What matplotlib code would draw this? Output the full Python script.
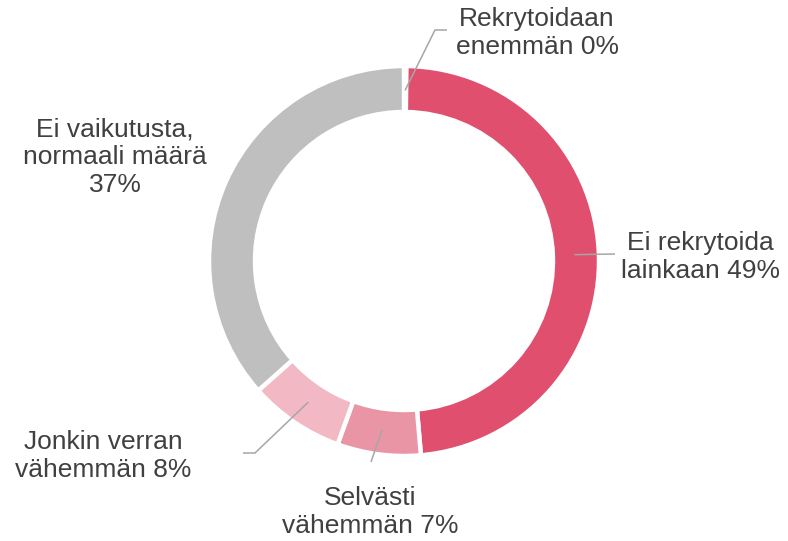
import matplotlib
matplotlib.use("Agg")
import matplotlib.pyplot as plt
import numpy as np

plt.rcParams['font.family'] = ['Liberation Sans', 'DejaVu Sans']

labels = ["Rekrytoidaan\nenemmän 0%",
          "Ei rekrytoida\nlainkaan 49%",
          "Selvästi\nvähemmän 7%",
          "Jonkin verran\nvähemmän 8%",
          "Ei vaikutusta,\nnormaali määrä\n37%"]
values = [0.2, 49, 7, 8, 37]
colors = ["#E0506E", "#E0506E", "#EA95A6", "#F2B9C5", "#BFBFBF"]

W, H = 788, 541
CX, CY, R = 404, 261, 195


# pixel position -> data coordinates (1 unit = pie radius)
def px(x, y):
    return (x - CX) / R, (CY - y) / R


fig = plt.figure(figsize=(W / 100, H / 100), dpi=100)
ax = fig.add_axes([0, 0, 1, 1])
wedges, _ = ax.pie(values, colors=colors, startangle=90, counterclock=False,
                   radius=1, wedgeprops=dict(width=0.236, edgecolor="white",
                                             linewidth=3.2))
ax.set_xlim(-CX / R, (W - CX) / R)
ax.set_ylim(-(H - CY) / R, CY / R)
ax.set_aspect('auto')
ax.axis('off')

# text last-line baseline (pixels), leader elbow points (pixels)
text_pos = [(537, 54), (700, 278), (370, 533), (103, 477), (115, 192)]
elbows = [[(435, 30), (447, 30)],
          [(615, 254)],
          [(371, 462)],
          [(255, 453), (243, 453)],
          None]

for w, lab, tp, el in zip(wedges, labels, text_pos, elbows):
    ang = np.deg2rad((w.theta1 + w.theta2) / 2)
    if el is not None:
        xs = [0.875 * np.cos(ang)]
        ys = [0.875 * np.sin(ang)]
        for p in el:
            x, y = px(*p)
            xs.append(x)
            ys.append(y)
        ax.plot(xs, ys, color="#A6A6A6", lw=1.1, solid_capstyle="butt")
    x, y = px(*tp)
    ax.text(x, y, lab, ha="center", va="baseline", multialignment="center",
            fontsize=19, color="#404040", linespacing=1.2)

fig.savefig("out.png", dpi=100, facecolor="white")
